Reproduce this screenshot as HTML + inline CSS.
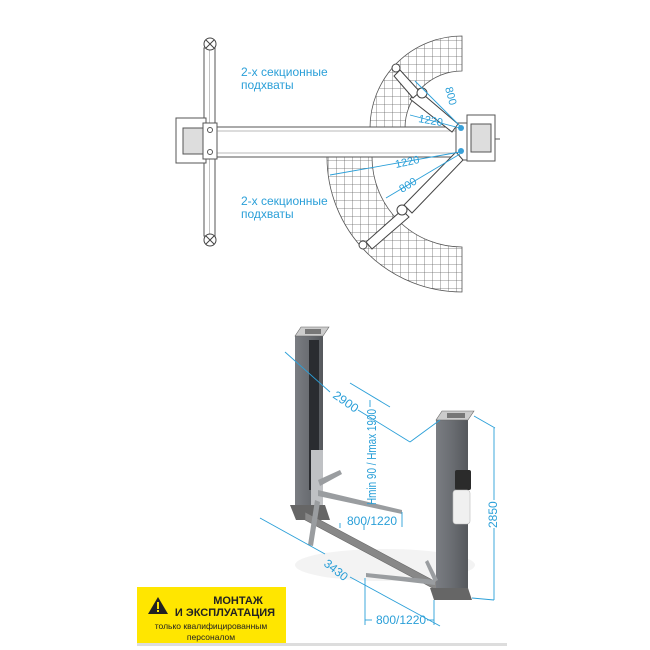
<!DOCTYPE html>
<html><head><meta charset="utf-8"><style>
html,body{margin:0;padding:0;background:#fff;}
svg{display:block}
.b{font-family:"Liberation Sans Narrow","Liberation Sans","DejaVu Sans Condensed",sans-serif;fill:#2a9fd8;}
</style></head><body>
<svg width="650" height="650" viewBox="0 0 650 650" xmlns="http://www.w3.org/2000/svg">
<defs>
<pattern id="g" width="8" height="8" patternUnits="userSpaceOnUse">
<rect width="8" height="8" fill="#fff"/><path d="M0 0H8M0 0V8" stroke="#666" stroke-width="0.8"/>
</pattern>
<linearGradient id="col" x1="0" x2="1"><stop offset="0" stop-color="#7a7d82"/><stop offset="0.5" stop-color="#6a6d72"/><stop offset="1" stop-color="#55585c"/></linearGradient>
</defs>
<rect width="650" height="650" fill="#fff"/>
<!-- hatched sectors -->
<path d="M370 128 A92 92 0 0 1 462 36 L462 71 A57 57 0 0 0 405 128 Z" fill="url(#g)" stroke="#555" stroke-width="0.8"/>
<path d="M327 157 A135 135 0 0 0 462 292 L462 247 A90 90 0 0 1 372 157 Z" fill="url(#g)" stroke="#555" stroke-width="0.8"/>
<!-- vertical bar -->
<rect x="204" y="48" width="11" height="188" fill="#fff" stroke="#555"/>
<line x1="209.5" y1="50" x2="209.5" y2="234" stroke="#999" stroke-width="0.6"/>
<circle cx="210" cy="44" r="6" fill="#fff" stroke="#444"/><path d="M206 40L214 48M214 40L206 48" stroke="#444"/>
<circle cx="210" cy="240" r="6" fill="#fff" stroke="#444"/><path d="M206 236L214 244M214 236L206 244" stroke="#444"/>
<!-- left base -->
<rect x="176" y="118" width="30" height="45" fill="#fff" stroke="#555"/>
<rect x="183" y="128" width="20" height="26" fill="#ddd" stroke="#555"/>
<rect x="203" y="123" width="14" height="36" fill="#fff" stroke="#555"/>
<circle cx="210" cy="130" r="2.5" fill="none" stroke="#555"/><circle cx="210" cy="152" r="2.5" fill="none" stroke="#555"/>
<!-- beam -->
<rect x="217" y="127" width="240" height="30" fill="#fff" stroke="#555"/>
<line x1="217" y1="131" x2="457" y2="131" stroke="#777" stroke-width="0.6"/>
<line x1="217" y1="153" x2="457" y2="153" stroke="#777" stroke-width="0.6"/>
<!-- right base -->
<rect x="456" y="123" width="11" height="37" fill="#fff" stroke="#555"/>
<rect x="467" y="115" width="28" height="46" fill="#fff" stroke="#555"/>
<rect x="471" y="124" width="20" height="28" fill="#ddd" stroke="#555"/>
<line x1="495" y1="139" x2="500" y2="139" stroke="#555"/>
<!-- arms top view -->
<path d="M458 124 L418 90 L410 99 L452 132 Z" fill="#fff" stroke="#444"/>
<path d="M420 92 L400 70 L394 76 L413 98 Z" fill="#fff" stroke="#444"/>
<circle cx="422" cy="93" r="5" fill="#fff" stroke="#444"/>
<circle cx="396" cy="68" r="4" fill="#fff" stroke="#444"/>
<path d="M456 152 L404 205 L412 213 L463 160 Z" fill="#fff" stroke="#444"/>
<path d="M402 210 L366 242 L372 249 L409 217 Z" fill="#fff" stroke="#444"/>
<circle cx="402" cy="210" r="5" fill="#fff" stroke="#444"/>
<circle cx="363" cy="245" r="4" fill="#fff" stroke="#444"/>
<circle cx="461" cy="128" r="3" fill="#3aa0d8"/><circle cx="461" cy="151" r="3" fill="#3aa0d8"/>
<!-- blue dims top -->
<g stroke="#2a9fd8" stroke-width="0.9" fill="none">
<line x1="415" y1="81" x2="460" y2="126"/>
<line x1="410" y1="115" x2="460" y2="128"/>
<line x1="330" y1="175" x2="460" y2="152"/>
<line x1="386" y1="198" x2="460" y2="154"/>
</g>
<text class="b" font-size="11" transform="translate(445 88) rotate(75)">800</text>
<text class="b" font-size="11" transform="translate(418 122) rotate(10)">1220</text>
<text class="b" font-size="11" transform="translate(396 168) rotate(-12)">1220</text>
<text class="b" font-size="11" transform="translate(402 193) rotate(-32)">800</text>
<text class="b" font-size="12" x="241" y="76">2-х секционные</text>
<text class="b" font-size="12" x="241" y="89">подхваты</text>
<text class="b" font-size="12" x="241" y="205">2-х секционные</text>
<text class="b" font-size="12" x="241" y="218">подхваты</text>
<!-- 3D lift -->
<ellipse cx="385" cy="565" rx="90" ry="16" fill="#f3f3f3"/>
<!-- left column -->
<rect x="295" y="336" width="28" height="175" fill="url(#col)"/>
<rect x="309" y="340" width="10" height="150" fill="#2a2c30"/>
<path d="M295 336 L301 327 L329 327 L323 336 Z" fill="#ccc" stroke="#666" stroke-width="0.6"/>
<rect x="305" y="329" width="16" height="5" fill="#777"/>
<path d="M290 505 L325 505 L330 520 L296 520 Z" fill="#666"/>
<rect x="311" y="450" width="12" height="55" fill="#bfc1c4"/>
<!-- base beam -->
<path d="M305 512 L440 584 L440 592 L305 520 Z" fill="#888" stroke="#666" stroke-width="0.6"/>
<!-- left arms -->
<path d="M318 490 L402 510 L402 514 L318 496 Z" fill="#9a9da0"/>
<path d="M315 500 L308 545 L313 546 L320 502 Z" fill="#9a9da0"/>
<path d="M318 480 L340 470 L342 474 L320 486 Z" fill="#9a9da0"/>
<!-- right column -->
<rect x="436" y="420" width="32" height="172" fill="url(#col)"/>
<path d="M436 420 L442 411 L474 411 L468 420 Z" fill="#ccc" stroke="#666" stroke-width="0.6"/>
<rect x="447" y="413" width="18" height="5" fill="#777"/>
<path d="M430 588 L468 588 L472 600 L434 600 Z" fill="#666"/>
<rect x="455" y="470" width="16" height="20" rx="2" fill="#2b2b2b"/>
<rect x="453" y="490" width="17" height="34" rx="3" fill="#f0f0f0" stroke="#bbb" stroke-width="0.6"/>
<!-- right arms -->
<path d="M366 573 L435 580 L435 585 L366 577 Z" fill="#9a9da0"/>
<path d="M428 560 L438 580 L434 582 L425 562 Z" fill="#9a9da0"/>
<!-- blue dims 3D -->
<g stroke="#2a9fd8" stroke-width="0.9" fill="none">
<line x1="285" y1="352" x2="330" y2="392"/>
<line x1="358" y1="410" x2="410" y2="442"/>
<line x1="350" y1="383" x2="390" y2="407"/>
<line x1="410" y1="442" x2="440" y2="420"/>
<line x1="370" y1="400" x2="370" y2="407"/>
<line x1="364" y1="525" x2="364" y2="530"/>
<line x1="340" y1="523" x2="340" y2="528"/>
<line x1="402" y1="512" x2="402" y2="527"/>
<line x1="260" y1="518" x2="325" y2="554"/>
<line x1="350" y1="577" x2="440" y2="626"/>
<line x1="365" y1="578" x2="365" y2="625"/>
<line x1="434" y1="600" x2="434" y2="625"/>
<line x1="365" y1="620" x2="372" y2="620"/><line x1="427" y1="620" x2="434" y2="620"/>
<line x1="474" y1="416" x2="495" y2="428"/>
<line x1="494" y1="428" x2="494" y2="500"/><line x1="494" y1="528" x2="494" y2="600"/>
<line x1="472" y1="598" x2="494" y2="600"/>
</g>
<text class="b" font-size="12" textLength="28" lengthAdjust="spacingAndGlyphs" transform="translate(332 397) rotate(35)">2900</text>
<text class="b" font-size="13" textLength="96" lengthAdjust="spacingAndGlyphs" transform="translate(376 505) rotate(-90)">Hmin 90 / Hmax 1900</text>
<text class="b" font-size="12" x="347" y="525">800/1220</text>
<text class="b" font-size="12" transform="translate(323 565) rotate(38)">3430</text>
<text class="b" font-size="12" x="376" y="624">800/1220</text>
<text class="b" font-size="12" transform="translate(497 528) rotate(-90)">2850</text>
<!-- warning box -->
<rect x="137" y="587" width="149" height="56" fill="#ffe600"/>
<path d="M158 597 L148 614 L168 614 Z" fill="#222"/>
<rect x="157" y="602" width="2" height="7" fill="#ffe600"/><rect x="157" y="610" width="2" height="2" fill="#ffe600"/>
<text x="238" y="604" font-family="Liberation Sans,sans-serif" font-weight="bold" font-size="11" text-anchor="middle" fill="#222">МОНТАЖ</text>
<text x="225" y="616" font-family="Liberation Sans,sans-serif" font-weight="bold" font-size="11" text-anchor="middle" fill="#222">И ЭКСПЛУАТАЦИЯ</text>
<text x="211" y="629" font-family="Liberation Sans,sans-serif" font-size="8.5" text-anchor="middle" fill="#222">только квалифицированным</text>
<text x="211" y="640" font-family="Liberation Sans,sans-serif" font-size="8.5" text-anchor="middle" fill="#222">персоналом</text>
<rect x="137" y="643" width="370" height="3" fill="#ddd"/>
</svg>
</body></html>
